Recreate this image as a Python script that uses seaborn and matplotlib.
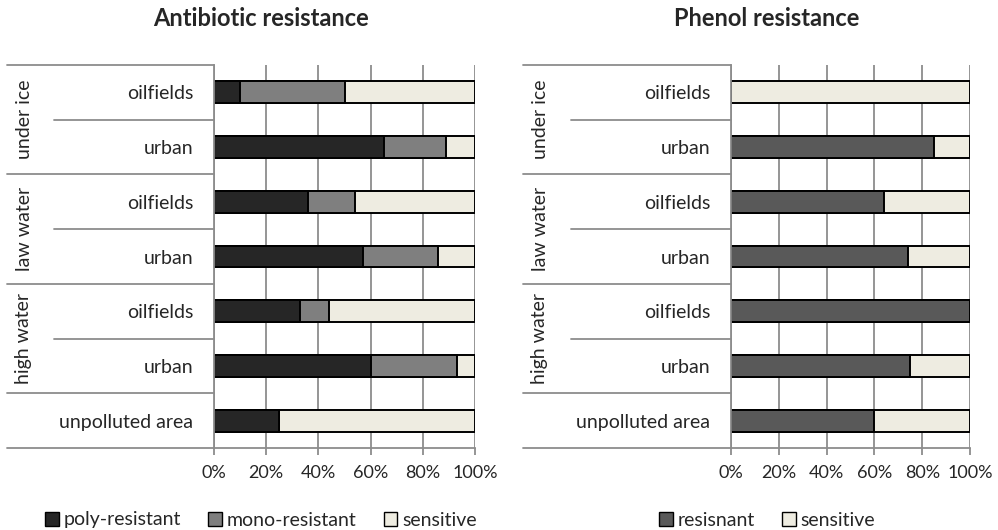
import matplotlib
matplotlib.use("Agg")
import matplotlib.pyplot as plt
import seaborn as sns
import numpy as np
from matplotlib.patches import Patch

# rows (top to bottom)
groups = ["under ice", "law water", "high water"]
sites = ["oilfields", "urban", "oilfields", "urban", "oilfields", "urban", "unpolluted area"]
row_keys = ["ice-oil", "ice-urb", "law-oil", "law-urb", "high-oil", "high-urb", "unpolluted"]

# antibiotic resistance, %
poly_resistant = [10, 65, 36, 57, 33, 60, 25]
mono_resistant = [40, 24, 18, 29, 11, 33, 0]
ab_sensitive = [50, 11, 46, 14, 56, 7, 75]

# phenol resistance, %
resisnant = [0, 85, 64, 74, 100, 75, 60]
ph_sensitive = [100, 15, 36, 26, 0, 25, 40]

ticks = [0, 20, 40, 60, 80, 100]
tick_labels = ["0%", "20%", "40%", "60%", "80%", "100%"]

COL_POLY = "#262626"
COL_MONO = "#7f7f7f"
COL_RES = "#595959"
COL_SENS = "#eeece1"
GRID = "#8c8c8c"

sns.set_theme(style="white")
plt.rcParams['font.family'] = ['Lato', 'DejaVu Sans']

W, H = 998, 530
fig = plt.figure(figsize=(W / 100, H / 100), dpi=100)

TOP, BOTTOM = 65, 448


def panel(x0, x1, line_x0, sub_x0, layers, title, legend_names, cx):
    ax = fig.add_axes([x0 / W, 1 - BOTTOM / H, (x1 - x0) / W, (BOTTOM - TOP) / H])
    ax.set_axisbelow(True)

    # stacked bars: draw cumulative totals from the right-most segment back
    vals = [np.array(v, dtype=float) for v, _ in layers]
    cums = np.cumsum(vals, axis=0)
    for cum, (_, color) in reversed(list(zip(cums, layers))):
        sns.barplot(x=cum, y=row_keys, orient="h", color=color, saturation=1,
                    edgecolor="black", linewidth=1.4, width=0.4, ax=ax)

    ax.set_xlim(0, 100)
    ax.set_ylim(6.5, -0.5)
    ax.set_xlabel("")
    ax.set_ylabel("")
    ax.set_xticks(ticks)
    ax.set_xticklabels(tick_labels, fontsize=13)
    ax.set_yticks(range(len(sites)))
    ax.set_yticklabels(sites, fontsize=14)
    ax.tick_params(axis="y", length=0, pad=15)
    ax.tick_params(axis="x", length=5, width=1.3, color=GRID, pad=7, bottom=True)
    ax.grid(axis="x", color=GRID, linewidth=1.3)
    for s in ["top", "right"]:
        ax.spines[s].set_visible(False)
    for s in ["left", "bottom"]:
        ax.spines[s].set_color(GRID)
        ax.spines[s].set_linewidth(1.3)

    # multi-level category box
    tr = ax.get_yaxis_transform()
    ax_w = x1 - x0
    gx = (line_x0 - x0) / ax_w
    sx = (sub_x0 - x0) / ax_w
    for y in [-0.5, 1.5, 3.5, 5.5, 6.5]:
        ax.plot([gx, 0], [y, y], color=GRID, lw=1.3, transform=tr, clip_on=False)
    for y in [0.5, 2.5, 4.5]:
        ax.plot([sx, 0], [y, y], color=GRID, lw=1.3, transform=tr, clip_on=False)
    lx = (line_x0 + 17 - x0) / ax_w
    for i, g in enumerate(groups):
        ax.text(lx, 2 * i + 0.5, g, rotation=90, ha="center", va="center",
                fontsize=14, transform=tr)

    fig.text(cx / W, 1 - 19 / H, title, ha="center", va="center",
             fontsize=17, fontweight="bold")
    handles = [Patch(facecolor=c, edgecolor="black", linewidth=1) for _, c in layers]
    fig.legend(handles, legend_names, loc="center", bbox_to_anchor=(cx / W, 1 - 520 / H),
               ncol=len(handles), frameon=False, fontsize=14, handlelength=0.7,
               handleheight=0.7, handletextpad=0.25, columnspacing=1.4)
    return ax


panel(214, 475, 7, 54,
      [(poly_resistant, COL_POLY), (mono_resistant, COL_MONO), (ab_sensitive, COL_SENS)],
      "Antibiotic resistance", ["poly-resistant", "mono-resistant", "sensitive"], 261)
panel(731, 970, 523, 571,
      [(resisnant, COL_RES), (ph_sensitive, COL_SENS)],
      "Phenol resistance", ["resisnant", "sensitive"], 767)

fig.savefig("out.png", dpi=100)
